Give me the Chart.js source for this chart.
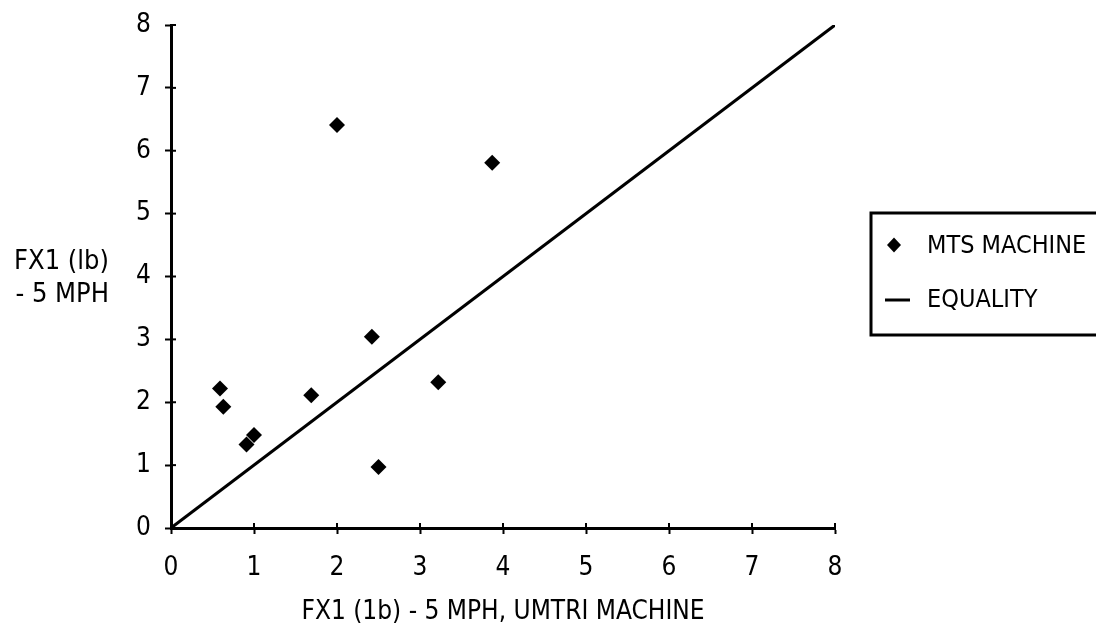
<!DOCTYPE html>
<html><head><meta charset="utf-8">
<script src="https://cdn.jsdelivr.net/npm/chart.js@4/dist/chart.umd.min.js"></script>
<style>html,body{margin:0;padding:0;background:#fff;}#wrap{width:1096px;height:632px;}</style>
</head><body><div id="wrap"><canvas id="c" width="1096" height="632"></canvas></div>
<script>
const mtsX = [0.59, 0.63, 0.91, 1.00, 1.69, 2.00, 2.42, 2.50, 3.22, 3.87];
const mtsY = [2.22, 1.93, 1.33, 1.48, 2.11, 6.41, 3.04, 0.97, 2.32, 5.81];
const equalityX = [0, 8];
const equalityY = [0, 8];
const seriesLabels = ['MTS MACHINE', 'EQUALITY'];
const xTitle = 'FX1 (1b) - 5 MPH, UMTRI MACHINE';
const yTitleLines = ['FX1 (lb)', '- 5 MPH'];
const tickValues = [0, 1, 2, 3, 4, 5, 6, 7, 8];

const FONT = "'DejaVu Sans Condensed','Liberation Sans Narrow','Roboto Condensed','DejaVu Sans',sans-serif";
const FSIZE = 26;
const AREA = {left:171, right:835, top:25, bottom:528};

const extras = {
  id: 'extras',
  afterDraw(chart) {
    const ctx = chart.ctx;
    const xs = chart.scales.x, ys = chart.scales.y;
    ctx.save();
    ctx.strokeStyle = '#000';
    ctx.lineWidth = 2;
    tickValues.forEach(v => {
      const px = xs.getPixelForValue(v);
      ctx.beginPath(); ctx.moveTo(px, ys.bottom); ctx.lineTo(px, ys.bottom - 5); ctx.stroke();
      const py = ys.getPixelForValue(v);
      ctx.beginPath(); ctx.moveTo(xs.left, py); ctx.lineTo(xs.left + 5, py); ctx.stroke();
    });
    ctx.fillStyle = '#000';
    ctx.font = '27px ' + FONT;
    ctx.textAlign = 'right';
    ctx.textBaseline = 'middle';
    ctx.fillText(yTitleLines[0], 109, 262);
    ctx.fillText(yTitleLines[1], 109, 295);
    // legend
    ctx.lineWidth = 3;
    ctx.strokeRect(871, 213, 260, 122);
    const mx = 894, my = 245;
    ctx.beginPath(); ctx.moveTo(mx, my - 7.5); ctx.lineTo(mx + 7, my); ctx.lineTo(mx, my + 7.5); ctx.lineTo(mx - 7, my); ctx.closePath(); ctx.fill();
    ctx.lineWidth = 3;
    ctx.beginPath(); ctx.moveTo(885, 300); ctx.lineTo(910, 300); ctx.stroke();
    ctx.textAlign = 'left';
    ctx.font = '25px ' + FONT;
    ctx.fillText(seriesLabels[0], 927, 246);
    ctx.fillText(seriesLabels[1], 927, 300);
    ctx.restore();
  }
};

new Chart(document.getElementById('c'), {
  type: 'scatter',
  data: {
    datasets: [
      { label: seriesLabels[0], data: mtsX.map((x,i)=>({x:x, y:mtsY[i]})),
        pointStyle: 'rectRot', pointRadius: 8, backgroundColor: '#000', borderColor: '#000', borderWidth: 0 },
      { label: seriesLabels[1], data: equalityX.map((x,i)=>({x:x, y:equalityY[i]})),
        showLine: true, pointRadius: 0, borderColor: '#000', borderWidth: 3, backgroundColor: '#000' }
    ]
  },
  plugins: [extras],
  options: {
    responsive: false, animation: false, devicePixelRatio: 1,
    layout: { padding: { left: 0, right: 1096 - AREA.right, top: AREA.top, bottom: 0 } },
    plugins: { legend: { display: false }, tooltip: { enabled: false } },
    scales: {
      x: {
        type: 'linear', min: 0, max: 8,
        afterFit(s) { s.height = 632 - AREA.bottom; s.paddingLeft = 0; s.paddingRight = 0; },
        afterBuildTicks(s) { s.ticks = tickValues.map(v => ({value: v})); },
        ticks: { color: '#000', font: { size: FSIZE, family: FONT }, padding: 19, maxRotation: 0 },
        grid: { drawOnChartArea: false, drawTicks: true, tickLength: 6, color: '#000', tickWidth: 2 },
        border: { display: true, color: '#000', width: 3 },
        title: { display: true, text: xTitle, color: '#000', font: { size: FSIZE, family: FONT }, padding: { top: 4, bottom: 4 } }
      },
      y: {
        type: 'linear', min: 0, max: 8,
        afterFit(s) { s.width = AREA.left; s.paddingTop = 0; s.paddingBottom = 0; },
        afterBuildTicks(s) { s.ticks = tickValues.map(v => ({value: v})); },
        ticks: { color: '#000', font: { size: FSIZE, family: FONT }, padding: 14 },
        grid: { drawOnChartArea: false, drawTicks: true, tickLength: 6, color: '#000', tickWidth: 2 },
        border: { display: true, color: '#000', width: 3 }
      }
    }
  }
});
</script>
</body></html>
